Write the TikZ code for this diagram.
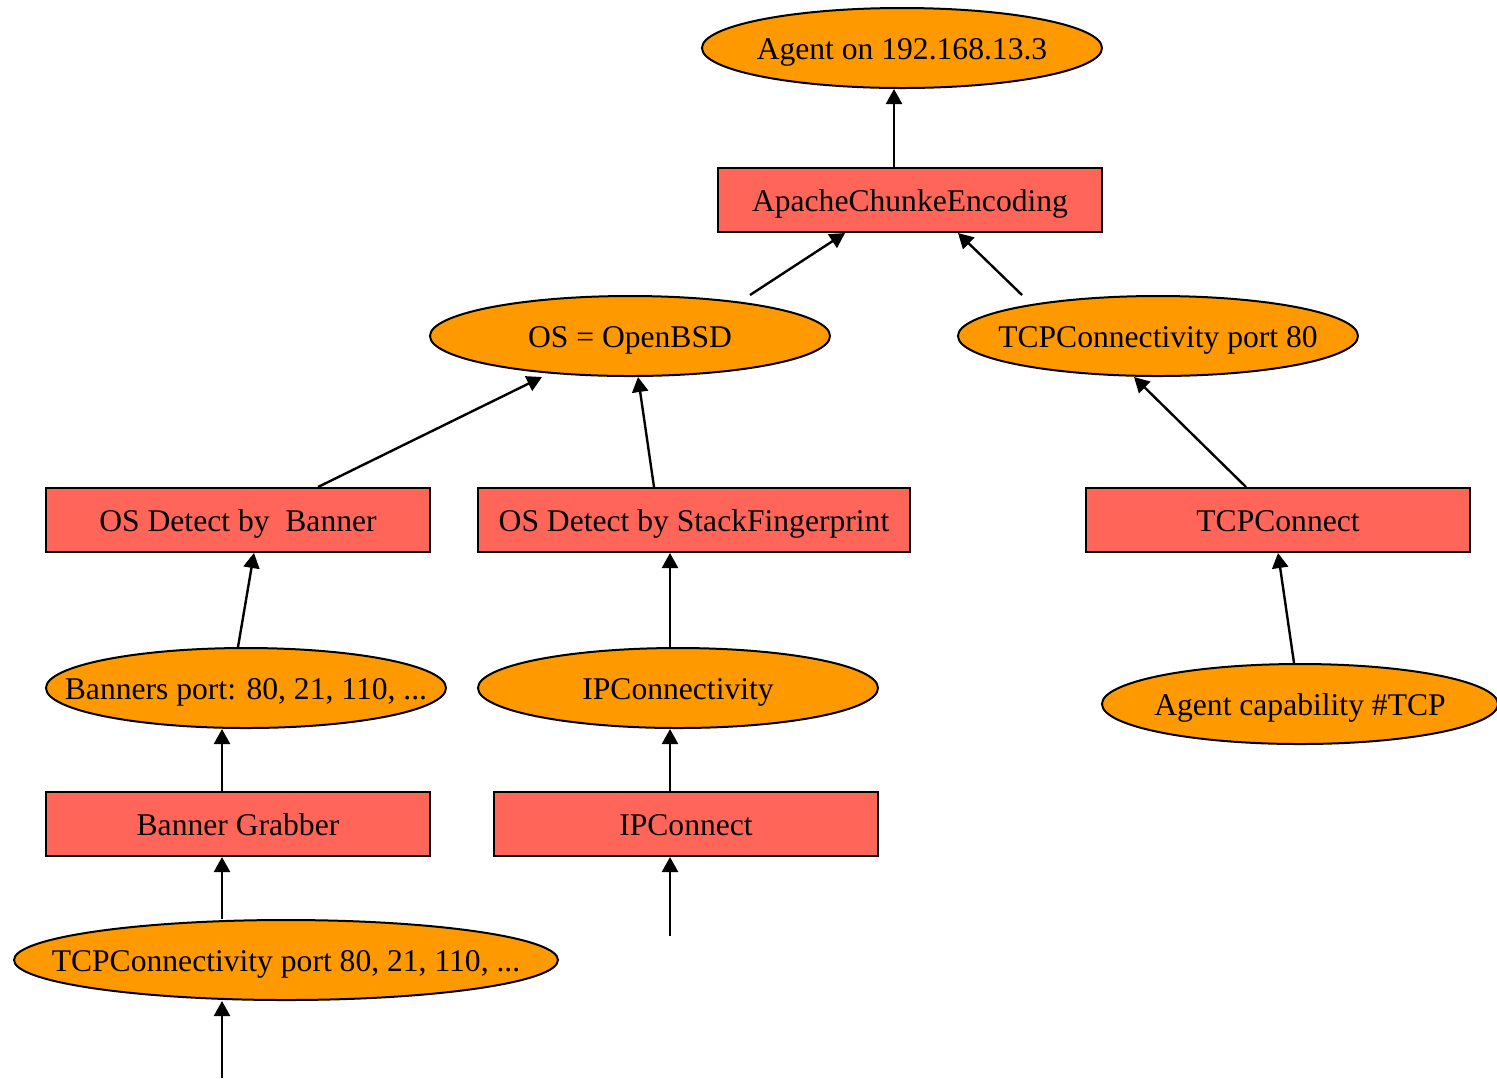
\documentclass[tikz,border=0pt]{standalone}
\usepackage{fontspec}
\setmainfont{Liberation Serif}
\usetikzlibrary{shapes.geometric, arrows.meta, calc}
\definecolor{factorange}{HTML}{FF9900}
\definecolor{modred}{HTML}{FF6659}

\begin{document}
\begin{tikzpicture}[x=0.5pt, y=-0.5pt,
    every node/.style={font=\fontsize{15.8}{19}\selectfont, inner sep=0pt,
        text height=14.3pt, text depth=3pt,
        execute at begin node={\hbox to 0pt\bgroup\hss},
        execute at end node={\hss\egroup}},
    fact/.style={ellipse, draw, line width=1pt, fill=factorange, minimum width=200pt, minimum height=40pt},
    module/.style={rectangle, draw, line width=1pt, fill=modred, minimum width=192pt, minimum height=32pt},
    link/.style={-{Triangle[length=7.5pt, width=8pt]}, line width=1.2pt}]
    \useasboundingbox (0, 0) rectangle (1497, 1078);

    \node [fact] (agent) at (902, 48) {Agent on 192.168.13.3};
    \node [module] (apache) at (910, 200) {ApacheChunkeEncoding};
    \node [fact] (osbsd) at (630, 336) {OS = OpenBSD};
    \node [fact] (tcp80) at (1158, 336) {TCPConnectivity port 80};
    \node [module] (osbanner) at (238, 520) {OS Detect by \ Banner};
    \node [module, minimum width=216pt] (osstack) at (694, 520) {OS Detect by StackFingerprint};
    \node [module] (tcpconnect) at (1278, 520) {TCPConnect};
    \node [fact] (banners) at (246, 688) {Banners port: 80, 21, 110, ...};
    \node [fact] (ipconn) at (678, 688) {IPConnectivity};
    \node [fact, minimum width=198pt] (agentcap) at (1300, 704) {Agent capability \#TCP};
    \node [module] (grabber) at (238, 824) {Banner Grabber};
    \node [module] (ipconnect) at (686, 824) {IPConnect};
    \node [fact, minimum width=272pt] (tcpmulti) at (286, 960) {TCPConnectivity port 80, 21, 110, ...};
    \coordinate (loosea) at (222, 1078);
    \coordinate (looseb) at (670, 936);

    \draw [link] ($(apache.north)+(-16, 0)$) -- ($(agent.south)+(-8, 0)$);
    \draw [link] ($(osbsd.north)+(120, 0)$) -- ($(apache.south)+(-65, 0)$);
    \draw [link] ($(tcp80.north)+(-136, 0)$) -- ($(apache.south)+(48, 0)$);
    \draw [link] ($(osbanner.north)+(80, 0)$) -- ($(osbsd.south)+(-88, 0)$);
    \draw [link] ($(osstack.north)+(-40, 0)$) -- ($(osbsd.south)+(8, 0)$);
    \draw [link] ($(tcpconnect.north)+(-32, 0)$) -- ($(tcp80.south)+(-24, 0)$);
    \draw [link] ($(banners.north)+(-8, 0)$) -- ($(osbanner.south)+(16, 0)$);
    \draw [link] ($(ipconn.north)+(-8, 0)$) -- ($(osstack.south)+(-24, 0)$);
    \draw [link] ($(agentcap.north)+(-6, 0)$) -- (tcpconnect.south);
    \draw [link] ($(grabber.north)+(-16, 0)$) -- ($(banners.south)+(-24, 0)$);
    \draw [link] ($(ipconnect.north)+(-16, 0)$) -- ($(ipconn.south)+(-8, 0)$);
    \draw [link] ($(tcpmulti.north)+(-64, 0)$) -- ($(grabber.south)+(-16, 0)$);
    \draw [link] (loosea) -- ($(tcpmulti.south)+(-64, 0)$);
    \draw [link] (looseb) -- ($(ipconnect.south)+(-16, 0)$);
\end{tikzpicture}
\end{document}
